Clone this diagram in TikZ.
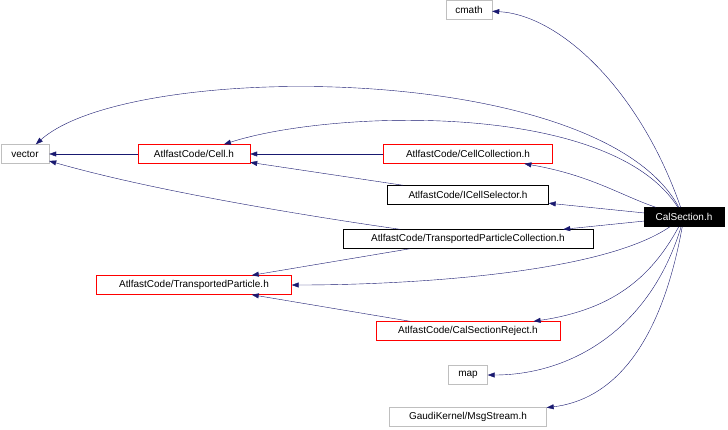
\documentclass[tikz,border=0pt]{standalone}
\usepackage{fontspec}
\setmainfont{Liberation Sans}
\usetikzlibrary{arrows.meta}
\definecolor{MidnightBlue}{RGB}{25,25,112}

\begin{document}
\begin{tikzpicture}[x=1pt,y=-1pt,
    file/.style={draw=#1, minimum height=19pt, inner xsep=3pt, inner ysep=0pt,
                 font=\fontsize{10}{11}\selectfont},
    dep/.style={draw=MidnightBlue, -{Triangle[length=7pt,width=5pt]}}]

  \useasboundingbox (0,0) rectangle (728,429);

  % Files
  \node[file=gray!50, minimum width=46pt] (cmath) at (469,10) {cmath};
  \node[file=gray!50, minimum width=48pt] (vector) at (25,154) {vector};
  \node[file=red, minimum width=112pt] (cell) at (194,154) {AtlfastCode/Cell.h};
  \node[file=red, minimum width=169pt] (cellcoll) at (468,154) {AtlfastCode/CellCollection.h};
  \node[file=black, minimum width=161pt] (icellsel) at (468,195) {AtlfastCode/ICellSelector.h};
  \node[file=black, fill=black, text=white, minimum width=80pt] (calsec) at (684,217) {CalSection.h};
  \node[file=black, minimum width=250pt] (tpcoll) at (468,239) {AtlfastCode/TransportedParticleCollection.h};
  \node[file=red, minimum width=195pt] (tpart) at (194,285) {AtlfastCode/TransportedParticle.h};
  \node[file=red, minimum width=184pt] (csreject) at (468,331) {AtlfastCode/CalSectionReject.h};
  \node[file=gray!50, minimum width=39pt] (map) at (468,375) {map};
  \node[file=gray!50, minimum width=157pt] (msgstream) at (468,417) {GaudiKernel/MsgStream.h};

  % Includes of CalSection.h
  \draw[dep] (calsec) .. controls (640,90) and (560,15) .. (cmath);
  \draw[dep] (calsec) .. controls (600,60) and (130,60) .. (vector);
  \draw[dep] (calsec) .. controls (610,100) and (330,110) .. (cell);
  \draw[dep] (calsec) .. controls (620,195) and (590,175) .. (cellcoll);
  \draw[dep] (calsec) -- (icellsel);
  \draw[dep] (calsec) -- (tpcoll);
  \draw[dep] (calsec) .. controls (600,275) and (400,285) .. (tpart);
  \draw[dep] (calsec) .. controls (650,280) and (610,310) .. (csreject);
  \draw[dep] (calsec) .. controls (650,330) and (570,375) .. (map);
  \draw[dep] (calsec) .. controls (660,350) and (610,400) .. (msgstream);

  % Other includes
  \draw[dep] (cell) -- (vector);
  \draw[dep] (cellcoll) -- (cell);
  \draw[dep] (icellsel) -- (cell);
  \draw[dep] (tpcoll) .. controls (300,215) and (150,190) .. (vector);
  \draw[dep] (tpcoll) -- (tpart);
  \draw[dep] (csreject) -- (tpart);

\end{tikzpicture}
\end{document}
